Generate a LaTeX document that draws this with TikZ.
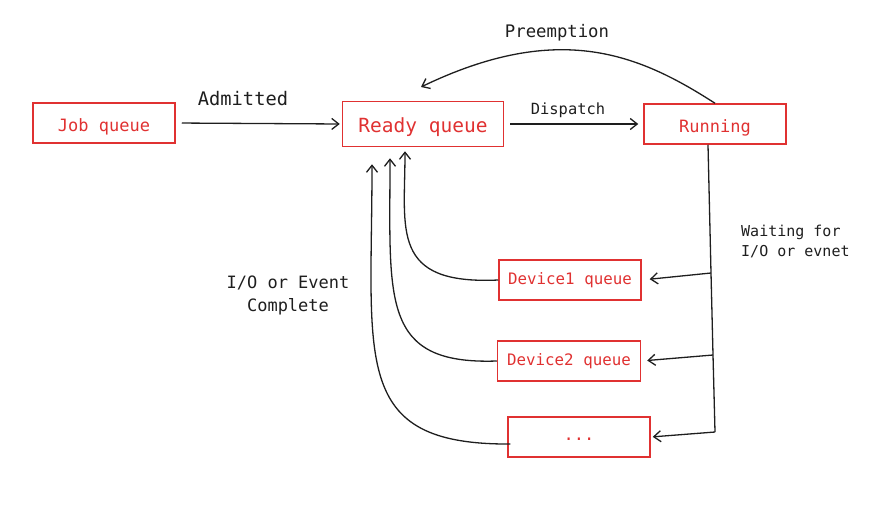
\documentclass[tikz,border=0pt]{standalone}
\usepackage{fontspec}
\setmonofont{DejaVu Sans Mono}
\usetikzlibrary{arrows.meta}

\definecolor{boxred}{HTML}{E03131}
\definecolor{ink}{HTML}{1E1E1E}

\begin{document}
\begin{tikzpicture}[x=1pt,y=-1pt,
    queue/.style={draw=boxred,line width=1.5pt,text=boxred,minimum width=142pt,
      minimum height=40pt,inner sep=0pt,font=\ttfamily\fontsize{17}{20}\selectfont},
    lowtext/.style={text height=21pt,text depth=4pt},
    lbl/.style={text=ink,inner sep=0pt,font=\ttfamily\fontsize{17}{23}\selectfont},
    flow/.style={draw=ink,line width=1.3pt,-{Straight Barb[length=7pt,width=11pt]}}]
  \useasboundingbox (0,0) rectangle (880,531);
  % queues
  \node[queue,lowtext] (job) at (104,123) {Job queue};
  \node[queue,lowtext,minimum width=161pt,minimum height=45pt,
        font=\ttfamily\fontsize{19.5}{22}\selectfont] (ready) at (423,124) {Ready queue};
  \node[queue,lowtext] (run) at (715,124) {Running};
  \node[queue,font=\ttfamily\fontsize{15.8}{18}\selectfont] (dev1) at (570,280) {Device1 queue};
  \node[queue,minimum width=143pt,font=\ttfamily\fontsize{15.8}{18}\selectfont] (dev2) at (569,361) {Device2 queue};
  \node[queue,text height=6pt,text depth=0pt] (devn) at (579,437) {...};
  % labels
  \node[lbl,font=\ttfamily\fontsize{18.7}{22}\selectfont] (admit) at (243,99) {Admitted};
  \node[lbl,font=\ttfamily\fontsize{15.4}{18}\selectfont] (disp) at (568,110) {Dispatch};
  \node[lbl,font=\ttfamily\fontsize{17.3}{20}\selectfont] (preempt) at (557,33) {Preemption};
  \node[lbl,align=left,anchor=west,font=\ttfamily\fontsize{15}{20}\selectfont] (wait) at (741,241) {Waiting for\\I/O or evnet};
  \node[lbl,align=center] (done) at (288,295) {I/O or Event\\Complete};
  % top row
  \draw[flow,shorten <=6pt,shorten >=2pt] (job.east) -- (ready.west);
  \draw[flow,shorten <=6pt,shorten >=5pt] (ready.east) -- (run.west);
  \coordinate (pretip) at (421,87);
  \draw[flow] (run.north) .. controls (640,55) and (560,20) .. (pretip);
  % waiting bus
  \coordinate (b1) at (711,273);
  \coordinate (b2) at (713,355);
  \coordinate (b3) at (715,432);
  \draw[draw=ink,line width=1.3pt] ([xshift=-7pt]run.south) -- (b1) -- (b2) -- (b3);
  \draw[flow,shorten >=8pt] (b1) -- (dev1.east);
  \draw[flow,shorten >=6pt] (b2) -- (dev2.east);
  \draw[flow,shorten >=2pt] (b3) -- (devn.east);
  % back to ready queue
  \draw[flow] (dev1.west) .. controls (390,285) and (405,230) .. ([xshift=-18pt,yshift=-4pt]ready.south);
  \draw[flow] (dev2.west) .. controls (380,365) and (390,300) .. ([xshift=-33pt,yshift=-11pt]ready.south);
  \draw[flow] ([xshift=3pt,yshift=-7pt]devn.west) .. controls (350,445) and (372,360) .. ([xshift=-51pt,yshift=-17pt]ready.south);
\end{tikzpicture}
\end{document}
